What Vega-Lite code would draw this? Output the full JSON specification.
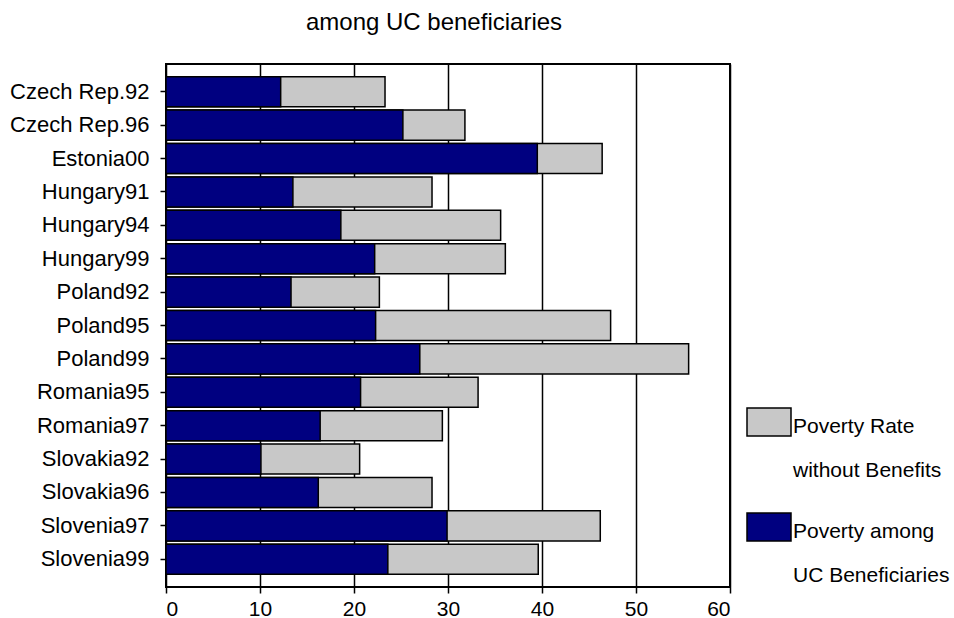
{
  "$schema": "https://vega.github.io/schema/vega-lite/v6.json",
  "width": 564,
  "height": 523,
  "autosize": "none",
  "padding": {"left": 166, "top": 64, "right": 224, "bottom": 31},
  "background": "white",
  "title": {
    "text": "among UC beneficiaries",
    "font": "Liberation Sans",
    "fontSize": 24,
    "fontWeight": "normal",
    "color": "black",
    "anchor": "middle",
    "baseline": "alphabetic",
    "offset": 10,
    "dx": -14
  },
  "config": {
    "view": {"stroke": "black", "strokeWidth": 2},
    "style": {"guide-label": {"lineHeight": 44}}
  },
  "data": {
    "values": [
      {"country": "Czech Rep.92", "series": "Poverty Rate without Benefits", "value": 23.3},
      {"country": "Czech Rep.96", "series": "Poverty Rate without Benefits", "value": 31.8},
      {"country": "Estonia00", "series": "Poverty Rate without Benefits", "value": 46.4},
      {"country": "Hungary91", "series": "Poverty Rate without Benefits", "value": 28.3},
      {"country": "Hungary94", "series": "Poverty Rate without Benefits", "value": 35.6},
      {"country": "Hungary99", "series": "Poverty Rate without Benefits", "value": 36.1},
      {"country": "Poland92", "series": "Poverty Rate without Benefits", "value": 22.7},
      {"country": "Poland95", "series": "Poverty Rate without Benefits", "value": 47.3},
      {"country": "Poland99", "series": "Poverty Rate without Benefits", "value": 55.6},
      {"country": "Romania95", "series": "Poverty Rate without Benefits", "value": 33.2},
      {"country": "Romania97", "series": "Poverty Rate without Benefits", "value": 29.4},
      {"country": "Slovakia92", "series": "Poverty Rate without Benefits", "value": 20.6},
      {"country": "Slovakia96", "series": "Poverty Rate without Benefits", "value": 28.3},
      {"country": "Slovenia97", "series": "Poverty Rate without Benefits", "value": 46.2},
      {"country": "Slovenia99", "series": "Poverty Rate without Benefits", "value": 39.6},
      {"country": "Czech Rep.92", "series": "Poverty among UC Beneficiaries", "value": 12.2},
      {"country": "Czech Rep.96", "series": "Poverty among UC Beneficiaries", "value": 25.2},
      {"country": "Estonia00", "series": "Poverty among UC Beneficiaries", "value": 39.5},
      {"country": "Hungary91", "series": "Poverty among UC Beneficiaries", "value": 13.5},
      {"country": "Hungary94", "series": "Poverty among UC Beneficiaries", "value": 18.6},
      {"country": "Hungary99", "series": "Poverty among UC Beneficiaries", "value": 22.2},
      {"country": "Poland92", "series": "Poverty among UC Beneficiaries", "value": 13.3},
      {"country": "Poland95", "series": "Poverty among UC Beneficiaries", "value": 22.3},
      {"country": "Poland99", "series": "Poverty among UC Beneficiaries", "value": 27.0},
      {"country": "Romania95", "series": "Poverty among UC Beneficiaries", "value": 20.7},
      {"country": "Romania97", "series": "Poverty among UC Beneficiaries", "value": 16.4},
      {"country": "Slovakia92", "series": "Poverty among UC Beneficiaries", "value": 10.1},
      {"country": "Slovakia96", "series": "Poverty among UC Beneficiaries", "value": 16.2},
      {"country": "Slovenia97", "series": "Poverty among UC Beneficiaries", "value": 29.9},
      {"country": "Slovenia99", "series": "Poverty among UC Beneficiaries", "value": 23.6}
    ]
  },
  "mark": {"type": "bar", "stroke": "black", "strokeWidth": 1.5, "opacity": 1},
  "encoding": {
    "y": {
      "field": "country",
      "type": "nominal",
      "sort": null,
      "scale": {"paddingInner": 0.1, "paddingOuter": 0.38},
      "axis": {
        "title": null,
        "domain": false,
        "grid": false,
        "ticks": true,
        "tickSize": 6,
        "tickWidth": 1.5,
        "tickColor": "black",
        "labelFont": "Liberation Sans",
        "labelFontSize": 22,
        "labelColor": "black",
        "labelPadding": 11,
        "labelLimit": 300
      }
    },
    "x": {
      "field": "value",
      "type": "quantitative",
      "stack": null,
      "scale": {"domain": [0, 60], "nice": false},
      "axis": {
        "title": null,
        "values": [0, 10, 20, 30, 40, 50, 60],
        "domain": false,
        "grid": true,
        "gridColor": "black",
        "gridWidth": 1.5,
        "gridOpacity": 1,
        "ticks": true,
        "tickSize": 6,
        "tickWidth": 1.5,
        "tickColor": "black",
        "labelFont": "Liberation Sans",
        "labelFontSize": 21,
        "labelColor": "black",
        "labelPadding": 5
      }
    },
    "fill": {
      "field": "series",
      "type": "nominal",
      "scale": {
        "domain": ["Poverty Rate without Benefits", "Poverty among UC Beneficiaries"],
        "range": ["#C8C8C8", "#000080"]
      },
      "legend": {
        "title": null,
        "orient": "none",
        "legendX": 580,
        "legendY": 346,
        "padding": 0,
        "symbolType": "M-1,-1.14H1V0.14H-1Z",
        "symbolSize": 1936,
        "symbolStrokeColor": "black",
        "symbolStrokeWidth": 1.5,
        "symbolOpacity": 1,
        "labelFont": "Liberation Sans",
        "labelFontSize": 21,
        "labelColor": "black",
        "labelBaseline": "alphabetic",
        "labelOffset": 1,
        "labelLimit": 400,
        "rowPadding": 28,
        "labelExpr": "datum.label == 'Poverty Rate without Benefits' ? ['Poverty Rate', 'without Benefits'] : ['Poverty among', 'UC Beneficiaries']"
      }
    }
  }
}
